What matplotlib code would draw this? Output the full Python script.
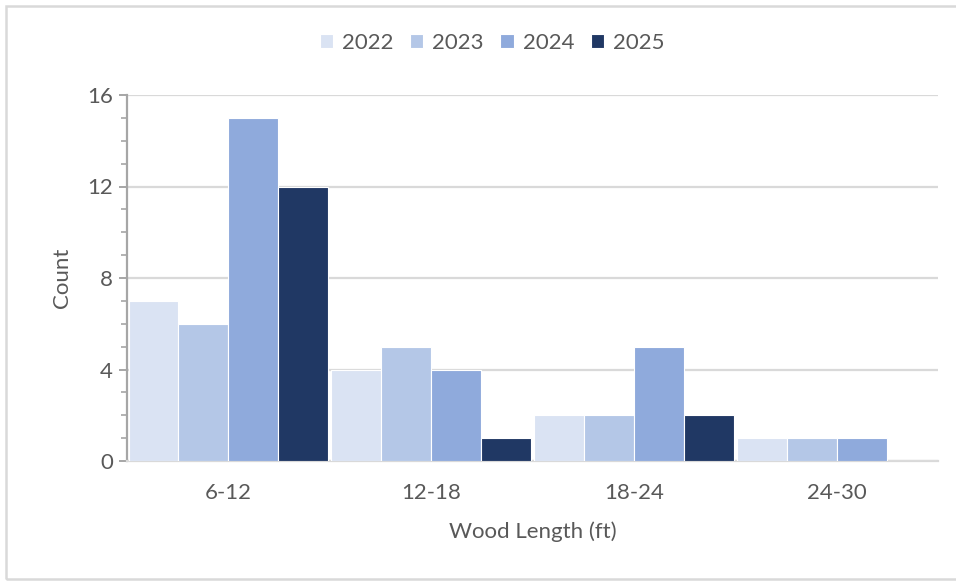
import matplotlib
matplotlib.use("Agg")
import matplotlib.pyplot as plt
import numpy as np
from matplotlib.patches import Rectangle
from matplotlib.ticker import MultipleLocator

plt.rcParams['font.family'] = ['Lato', 'DejaVu Sans']

categories = ["6-12", "12-18", "18-24", "24-30"]
years = ["2022", "2023", "2024", "2025"]
counts_2022 = [7, 4, 2, 1]
counts_2023 = [6, 5, 2, 1]
counts_2024 = [15, 4, 5, 1]
counts_2025 = [12, 1, 2, 0]
series = [counts_2022, counts_2023, counts_2024, counts_2025]
colors = ["#DAE3F3", "#B4C7E7", "#8FAADC", "#203864"]

text_color = "#595959"
grid_color = "#D9D9D9"

fig = plt.figure(figsize=(9.56, 5.82), dpi=100)
fig.patch.set_facecolor("white")

# outer chart frame
fig.add_artist(Rectangle((6 / 956, 3 / 582), 1.2, 573 / 582, transform=fig.transFigure,
                         fill=False, edgecolor="#D9D9D9", linewidth=1.8))

ax = fig.add_axes([127 / 956, 1 - 461 / 582, (938 - 127) / 956, (461 - 95) / 582])

x = np.arange(len(categories))
w = 0.246
for i, (vals, col, yr) in enumerate(zip(series, colors, years)):
    ax.bar(x + (i - 1.5) * w, vals, width=w, color=col, edgecolor="white",
           linewidth=0.8, label=yr, zorder=3)

ax.set_xlim(-0.5, len(categories) - 0.5)
ax.set_ylim(0, 16)
ax.yaxis.set_major_locator(MultipleLocator(4))
ax.yaxis.set_minor_locator(MultipleLocator(1))
ax.grid(axis="y", which="major", color=grid_color, linewidth=1.6, zorder=0)
ax.set_axisbelow(True)

for s in ["top", "right"]:
    ax.spines[s].set_visible(False)
ax.spines["left"].set_color("#A6A6A6")
ax.spines["left"].set_linewidth(1.6)
ax.spines["bottom"].set_color(grid_color)
ax.spines["bottom"].set_linewidth(1.6)

ax.set_xticks(x)
ax.set_xticklabels(categories)
ax.tick_params(axis="x", length=0, pad=16, labelsize=16, labelcolor=text_color)
ax.tick_params(axis="y", which="major", length=6, width=1.4, color="#A6A6A6",
               labelsize=16, labelcolor=text_color, pad=4)
ax.tick_params(axis="y", which="minor", length=4, width=1.2, color="#A6A6A6")

ax.set_xlabel("Wood Length (ft)", fontsize=16, color=text_color, labelpad=13)
ax.set_ylabel("Count", fontsize=16, color=text_color, labelpad=11)

leg = ax.legend(loc="center", bbox_to_anchor=((492 - 127) / 811, 1 + (95 - 43) / 366),
                ncol=4, frameon=False, fontsize=16, handlelength=0.6, handleheight=0.6,
                handletextpad=0.4, columnspacing=0.75)
for t in leg.get_texts():
    t.set_color(text_color)

fig.savefig("out.png", dpi=100, facecolor="white")
